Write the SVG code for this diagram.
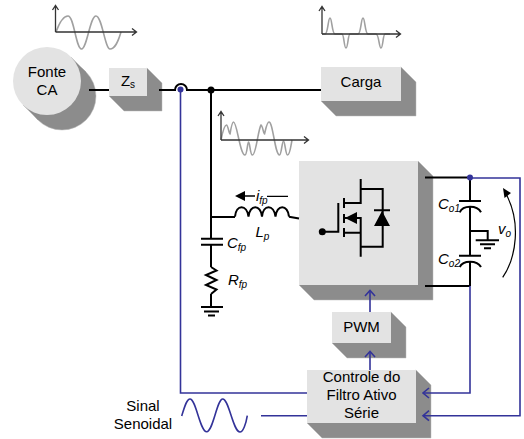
<svg xmlns="http://www.w3.org/2000/svg" width="524" height="439" viewBox="0 0 524 439">
<style>
text{font-family:"Liberation Sans",Arial,sans-serif;font-size:15px;fill:#000}
.m{text-anchor:middle}
.i{font-style:italic}
.f{fill:#e3e3e3}
.s{fill:#8c8c8c;stroke:#bbb;stroke-width:.5}
.k{fill:none;stroke:#000;stroke-width:2}
.b{fill:none;stroke:#333399;stroke-width:1.6}
.g{fill:none;stroke:#a0a0a0;stroke-width:1.6}
.a{fill:none;stroke:#333;stroke-width:1.3}
</style>
<g id="waveforms">
<path class="g" d="M56 32C60 21 64 16 68 16C74 16 76 49 81.500 49C87 49 90 16 96 16C102 16 105 49 110 49C115 49 118 42 121 32"/>
<path class="a" d="M55.500 32V6M52.500 10L55.500 5.500L58.500 10M55.500 32H136M132 28.500L136.500 32L132 35.500"/>
<path class="g" d="M322 34H325C328 34 328 18 330 18C332 18 332 34 335 34H342C344 34 344 48 346 48C348 48 348 34 350 34H358C361 34 361 18 363 18C365 18 365 34 368 34H376C379 34 379 48 381 48C383 48 383 34 385 34H390"/>
<path class="a" d="M322 34V7M319 11L322 6.500L325 11M322 34H400M396 30.500L400.500 34L396 37.500"/>
<path class="g" d="M221 140C223 130 225 125 226.500 125C228 125 229 134 230 134C231 128 232 122 233.500 122C237 122 240 155 245 155C247 155 247.500 142 248.500 142C250 142 250 155 252.500 155C256 155 258 130 261 125C262.500 125 263.500 134 264.500 134C266 128 267 122 269 122C273 122 275 155 279.500 155C281.500 155 282 141 283.500 141C285 141 285.500 155 287.500 155C290 155 291 145 292 140"/>
<path class="a" d="M221 140V112M218 116L221 111.500L224 116M221 140H308M304 136.500L308.500 140L304 143.500"/>
</g>
<g id="fonte-ca">
<circle class="s" cx="62" cy="96" r="34"/>
<path fill="#8c8c8c" d="M23 105L71 57L86 72L38 120Z"/>
<circle class="f" cx="47" cy="81" r="34"/>
<text class="m" x="47" y="77">Fonte</text>
<text class="m" x="47" y="95">CA</text>
</g>
<g id="zs">
<path class="s" d="M147 68L162 83V111H124L109 96Z"/>
<rect class="f" x="109" y="68" width="38" height="28"/>
<text class="m" x="128" y="86">Z<tspan font-size="10" dy="2">s</tspan></text>
</g>
<g id="carga">
<path class="s" d="M401 67L416 82V116H336L321 101Z"/>
<rect class="f" x="321" y="67" width="80" height="34"/>
<text class="m" x="361" y="87">Carga</text>
</g>
<g id="inversor">
<path class="s" d="M418 161L433 176V300H314L299 285Z"/>
<rect class="f" x="299" y="161" width="119" height="124"/>
<path class="k" d="M322.300 231.700H338.300V203M344 198V208M344 214V223M344 228V237M344 203H360.700V179M344 232.700H360.700V256.700M344 218H360.700V232.700M360.700 189H382.700V246.700H360.700M374 210.300H390"/>
<circle cx="322.300" cy="231.700" r="3.500"/>
<path d="M345 218L357 212V224Z"/>
<path d="M374 226H390L382 211Z"/>
</g>
<g id="pwm">
<path class="s" d="M391 312L406 327V358H347L332 343Z"/>
<rect class="f" x="332" y="312" width="59" height="31"/>
<text class="m" x="361.500" y="332">PWM</text>
</g>
<g id="controle">
<path class="s" d="M416 370L431 385V438H322L307 423Z"/>
<rect class="f" x="307" y="370" width="109" height="53"/>
<text class="m" x="361.500" y="382">Controle do</text>
<text class="m" x="361.500" y="400">Filtro Ativo</text>
<text class="m" x="361.500" y="418">Série</text>
</g>
<g id="connectors">
<path class="k" d="M89 90H109M159 90H175A6 6 0 0 1 187 90H321M211 90V217M211 217H235M289 216.700L299 218.500M211 217V239M211 245V267M211 294V307"/>
<path class="k" d="M425 177.500H470M425 286H470M470 177.500V201M470 207V256M470 262V286M470 231H487.700V240"/>
<path class="b" d="M180.500 90V393H307M261 415.700H307M470 178H520V415.700H423M470 286V393H423M370 312V291M370 370V352"/>
<path class="b" d="M365 296L370 290.500L375 296M365 357L370 351.500L375 357M429 388L423 393L429 398M429 410.700L423 415.700L429 420.700"/>
<path class="b" d="M181.700 416C185 405 187 399 190 399C196 399 200 431.700 206.700 431.700C213 431.700 217 399 222.700 399C229 399 233 432 240 432C243 432 246 424 247.300 415.700"/>
<circle cx="180.500" cy="89.500" r="3" fill="#333399"/>
<circle cx="211" cy="90" r="3.500" fill="#000"/>
<circle cx="470" cy="177.500" r="3" fill="#333399"/>
</g>
<g id="indutor-lp">
<path class="k" d="M235 216.700C236 204 247 204 248.500 216.700C249.500 204 261 204 262 216.700C263 204 274 204 275.500 216.700C276.500 204 288 204 289 216.700"/>
<path d="M235 196L245 191V201Z"/>
<path fill="none" stroke="#000" stroke-width="1.300" d="M245 196H255M267 196.300H288"/>
<text class="i" x="256" y="201">i<tspan font-size="10" dy="3">fp</tspan></text>
<text class="i" x="255.500" y="237">L<tspan font-size="10" dy="3">p</tspan></text>
</g>
<g id="cfp">
<path class="k" d="M201 238.700H223M201 244.700H223"/>
<text class="i" x="227" y="248">C<tspan font-size="10" dy="3">fp</tspan></text>
</g>
<g id="rfp">
<path class="k" d="M211 267L216.500 270.500L206 275L216.500 280L206 285L216.500 289.500L211 294"/>
<text class="i" x="228" y="285">R<tspan font-size="10" dy="3">fp</tspan></text>
<path class="k" d="M201 307H223M204 311.500H219M208 315.500H215"/>
</g>
<g id="capacitores">
<path class="k" d="M459 201H481M459.700 212.300C463 205 477 205 481 212.300M459 255.700H481M459.700 267C463 260 477 260 481 267"/>
<path class="k" d="M475.700 240.300H499M480 244.300H495M484 248.300H491"/>
<text class="i" x="438" y="209">C<tspan font-size="10" dy="3">o1</tspan></text>
<text class="i" x="438" y="264">C<tspan font-size="10" dy="3">o2</tspan></text>
</g>
<g id="vo">
<path fill="none" stroke="#000" stroke-width="1.200" d="M502.700 277.300C516 258 522 222 505 192"/>
<path d="M503 188L511 193L504.500 198Z"/>
<text class="i" x="498" y="234">v<tspan font-size="10" dy="3">o</tspan></text>
</g>
<g id="sinal">
<text class="m" x="143" y="411">Sinal</text>
<text class="m" x="143" y="429">Senoidal</text>
</g>
</svg>
